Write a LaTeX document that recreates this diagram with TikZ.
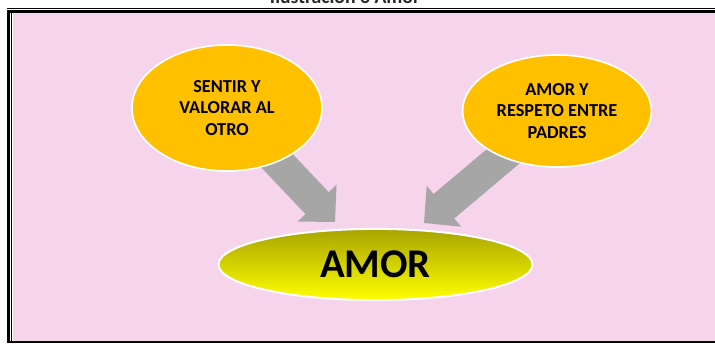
\documentclass[tikz,border=0pt]{standalone}
\usepackage{fontspec}
\setmainfont{Carlito}
\usetikzlibrary{shapes.geometric, arrows.meta, backgrounds}
\definecolor{fondo}{RGB}{246,212,236}
\definecolor{naranja}{RGB}{255,192,0}
\definecolor{gris}{RGB}{166,166,166}
\definecolor{oliva}{RGB}{168,164,0}
\tikzstyle{idea} = [ellipse, draw=white, line width=0.4mm, fill=naranja,
                    minimum width=4.75cm, minimum height=3.15cm,
                    text centered, align=center, inner sep=0pt,
                    font=\fontsize{13}{15.5}\selectfont\bfseries]
\tikzstyle{centro} = [ellipse, draw=white, line width=0.5mm,
                      top color=oliva, bottom color=yellow,
                      minimum width=7.85cm, minimum height=1.78cm,
                      font=\fontsize{29}{34}\selectfont\bfseries]
\tikzstyle{arrow} = [draw=gris, line width=0.8cm,
                     -{Triangle[length=0.65cm, width=1.3cm]}]

\begin{document}
\begin{tikzpicture}[x=0.025cm, y=-0.025cm]
        \useasboundingbox (0,0) rectangle (715,343);
        
        % titulo (cortado arriba)
        \node (Titulo) [anchor=base, text=black!85,
                        font=\fontsize{14}{16}\selectfont\bfseries] at (345,3.5) {Ilustración 3 Amor};
        
        % fondo y marco
        \begin{scope}[on background layer]
        \fill [fondo] (12.5,13) rectangle (715,341);
        \end{scope}
        \draw [line width=0.8pt] (7,8.5) -- (715,8.5);
        \draw [line width=2.2pt] (8.5,343) -- (8.5,11.5) -- (715,11.5);
        \draw [line width=0.8pt] (11.8,343) -- (11.8,13);
        \draw [line width=1.6pt] (7,342) -- (715,342);
        
        
        \node (Sentir) [idea] at (227,108) {SENTIR Y\\VALORAR AL\\OTRO};
        
        \node (Padres) [idea, minimum width=4.72cm, minimum height=2.8cm] at (557,111) {AMOR Y\\RESPETO ENTRE\\PADRES};
        
        \node (Amor) [centro] at (375.5,264.5) {AMOR};
        
        
        \coordinate (PuntaI) at (335,222);
        \coordinate (PuntaD) at (424,223);
        \begin{scope}[on background layer]
        \draw [arrow] (Sentir.center) -- (PuntaI); %flecha izquierda
        \draw [arrow] (Padres.center) -- (PuntaD); %flecha derecha
        \end{scope}
        
\end{tikzpicture}
\end{document}
